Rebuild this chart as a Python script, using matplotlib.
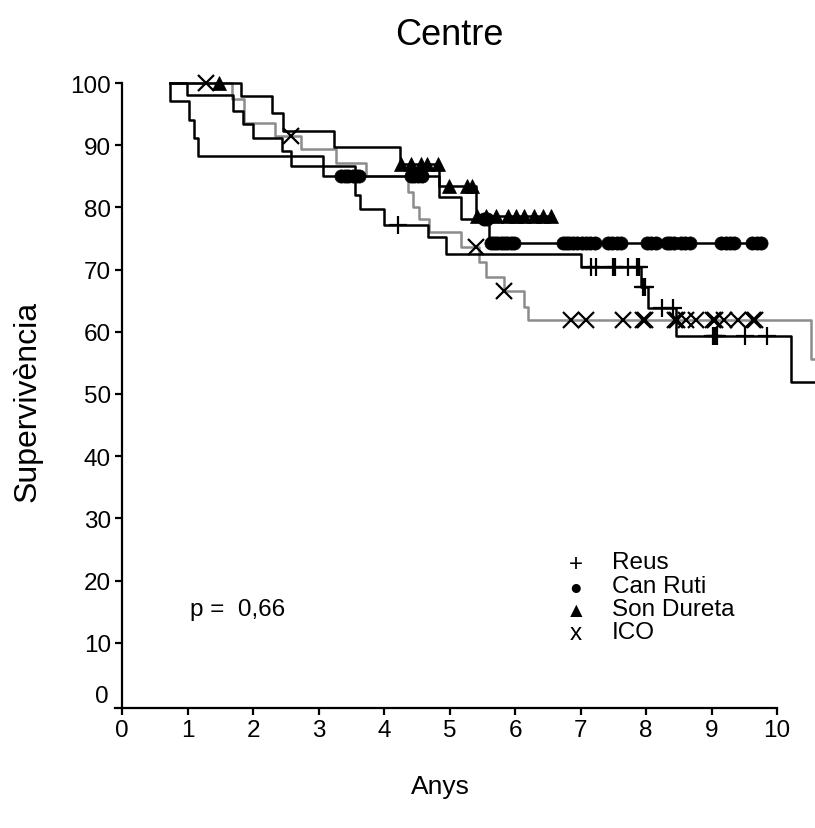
import numpy as np
import matplotlib
matplotlib.use('Agg')
import matplotlib.pyplot as plt

plt.rcParams['font.family'] = ['Liberation Sans', 'DejaVu Sans']

# Kaplan-Meier steps per centre: event times (anys) and survival (%) after each step
reus_t = [0.73, 0.99, 1.69, 1.85, 2.00, 2.45, 2.58, 3.55, 3.63, 4.00, 4.67, 4.94, 7.00, 7.92, 8.03, 8.46, 10.21]
reus_s = [100, 98.1, 95.5, 93.4, 91.1, 89.1, 86.6, 82.0, 79.8, 77.2, 75.2, 72.5, 70.4, 67.2, 63.8, 59.3, 52.0]
reus_end = 10.7
reus_cens = [4.22, 7.16, 7.24, 7.50, 7.53, 7.73, 7.86, 7.89, 7.95, 7.98, 8.24, 8.41,
             9.02, 9.05, 9.09, 9.51, 9.85]

ruti_t = [0.73, 0.74, 1.02, 1.10, 1.16, 3.07, 4.84, 5.18, 5.60]
ruti_s = [100, 97.1, 94.0, 91.2, 88.3, 85.0, 81.7, 78.1, 74.3]
ruti_end = 9.78
ruti_cens = [3.35, 3.40, 3.45, 3.52, 3.57, 3.62, 4.41, 4.46, 4.52, 4.58,
             5.52, 5.57, 5.63, 5.68, 5.73, 5.78, 5.83, 5.88, 5.94, 5.99,
             6.74, 6.78, 6.83, 6.88, 6.95, 7.02, 7.08, 7.15, 7.22, 7.42, 7.48, 7.55, 7.62,
             8.02, 8.08, 8.15, 8.32, 8.37, 8.43, 8.53, 8.60, 8.67,
             9.15, 9.22, 9.28, 9.35, 9.62, 9.70, 9.76]

dur_t = [0.73, 1.82, 2.29, 2.46, 3.24, 4.25, 4.84, 5.40]
dur_s = [100, 97.9, 95.2, 92.3, 89.7, 87.0, 83.4, 78.7]
dur_end = 6.58
dur_cens = [1.48, 4.26, 4.41, 4.56, 4.66, 4.82, 4.99, 5.27, 5.35,
            5.42, 5.56, 5.71, 5.89, 6.02, 6.14, 6.29, 6.43, 6.55]

ico_t = [0.73, 1.68, 1.87, 2.33, 2.73, 3.27, 3.73, 4.37, 4.44, 4.53, 4.69, 5.18, 5.45,
         5.56, 5.83, 6.14, 6.20, 10.52]
ico_s = [100, 97.4, 93.6, 91.5, 89.4, 87.2, 85.1, 82.5, 80.1, 78.1, 76.0, 73.6, 71.2,
         68.8, 66.6, 64.0, 61.9, 55.6]
ico_end = 10.7
ico_cens = [1.28, 2.58, 5.40, 5.83, 6.85, 7.08, 7.65, 7.95, 7.98, 8.44, 8.47, 8.61, 8.76,
            9.02, 9.05, 9.19, 9.40, 9.63, 9.66]

legend_names = ['Reus', 'Can Ruti', 'Son Dureta', 'ICO']
legend_syms = ['+', '\u25cf', '\u25b2', 'x']
p_text = 'p =  0,66'
yticks = list(range(0, 101, 10))


def level_at(t, s, x):
    idx = np.searchsorted(t, x, side='right') - 1
    return np.asarray(s)[idx]


def km_curve(ax, t, s, end, cens, color, marker, ms, mew=1.6):
    ax.step(np.r_[t, end], np.r_[s, s[-1]], where='post', color=color, lw=1.8,
            clip_on=False, zorder=2)
    ax.plot(cens, level_at(t, s, cens), ls='none', marker=marker, ms=ms,
            mew=mew, color='black', clip_on=False, zorder=3)


fig = plt.figure(figsize=(8.15, 8.29), dpi=100)
ax = fig.add_axes([122 / 815, 120 / 829, 693 / 815, 628 / 829])

km_curve(ax, ico_t, ico_s, ico_end, ico_cens, '#8c8c8c', 'x', 11)
km_curve(ax, reus_t, reus_s, reus_end, reus_cens, 'black', '+', 13)
km_curve(ax, ruti_t, ruti_s, ruti_end, ruti_cens, 'black', 'o', 9.5, 0.5)
km_curve(ax, dur_t, dur_s, dur_end, dur_cens, 'black', '^', 10.5, 0.5)

ax.set_xlim(0, 10.58)
ax.set_ylim(-0.5, 100.5)
ax.set_xticks(range(0, 11))
# the 0 sits on the x axis, so its label is drawn a little higher without a tick
ax.set_yticks(yticks[1:])
ax.text(-0.2, 1.4, str(yticks[0]), ha='right', va='center', fontsize=17.5)
for side in ['top', 'right']:
    ax.spines[side].set_visible(False)
ax.spines['left'].set_bounds(-0.5, 100)
ax.spines['bottom'].set_bounds(-0.1, 10)
ax.spines['left'].set_linewidth(1.6)
ax.spines['bottom'].set_linewidth(1.6)
ax.tick_params(length=5, width=1.6, labelsize=17.5, pad=3)

ax.text(5.0, 1.073, 'Centre', transform=ax.get_xaxis_transform(),
        ha='center', va='center', fontsize=26)
ax.text(4.86, -0.124, 'Anys', transform=ax.get_xaxis_transform(),
        ha='center', va='center', fontsize=19)
fig.text(28 / 815, 1 - 401 / 829, 'Supervivència', rotation=90,
         ha='center', va='center', fontsize=23)

ax.text(1.04, 15.4, p_text, fontsize=17.5, va='center')
leg_y = [22.7, 18.9, 15.2, 11.5]
for name, sym, y in zip(legend_names, legend_syms, leg_y):
    ax.text(6.93, y, sym, fontsize=17.5 if sym in '+x' else 15, ha='center', va='center')
    ax.text(7.48, y + 0.3, name, fontsize=17.5, va='center')

fig.savefig('out.png', dpi=100)
